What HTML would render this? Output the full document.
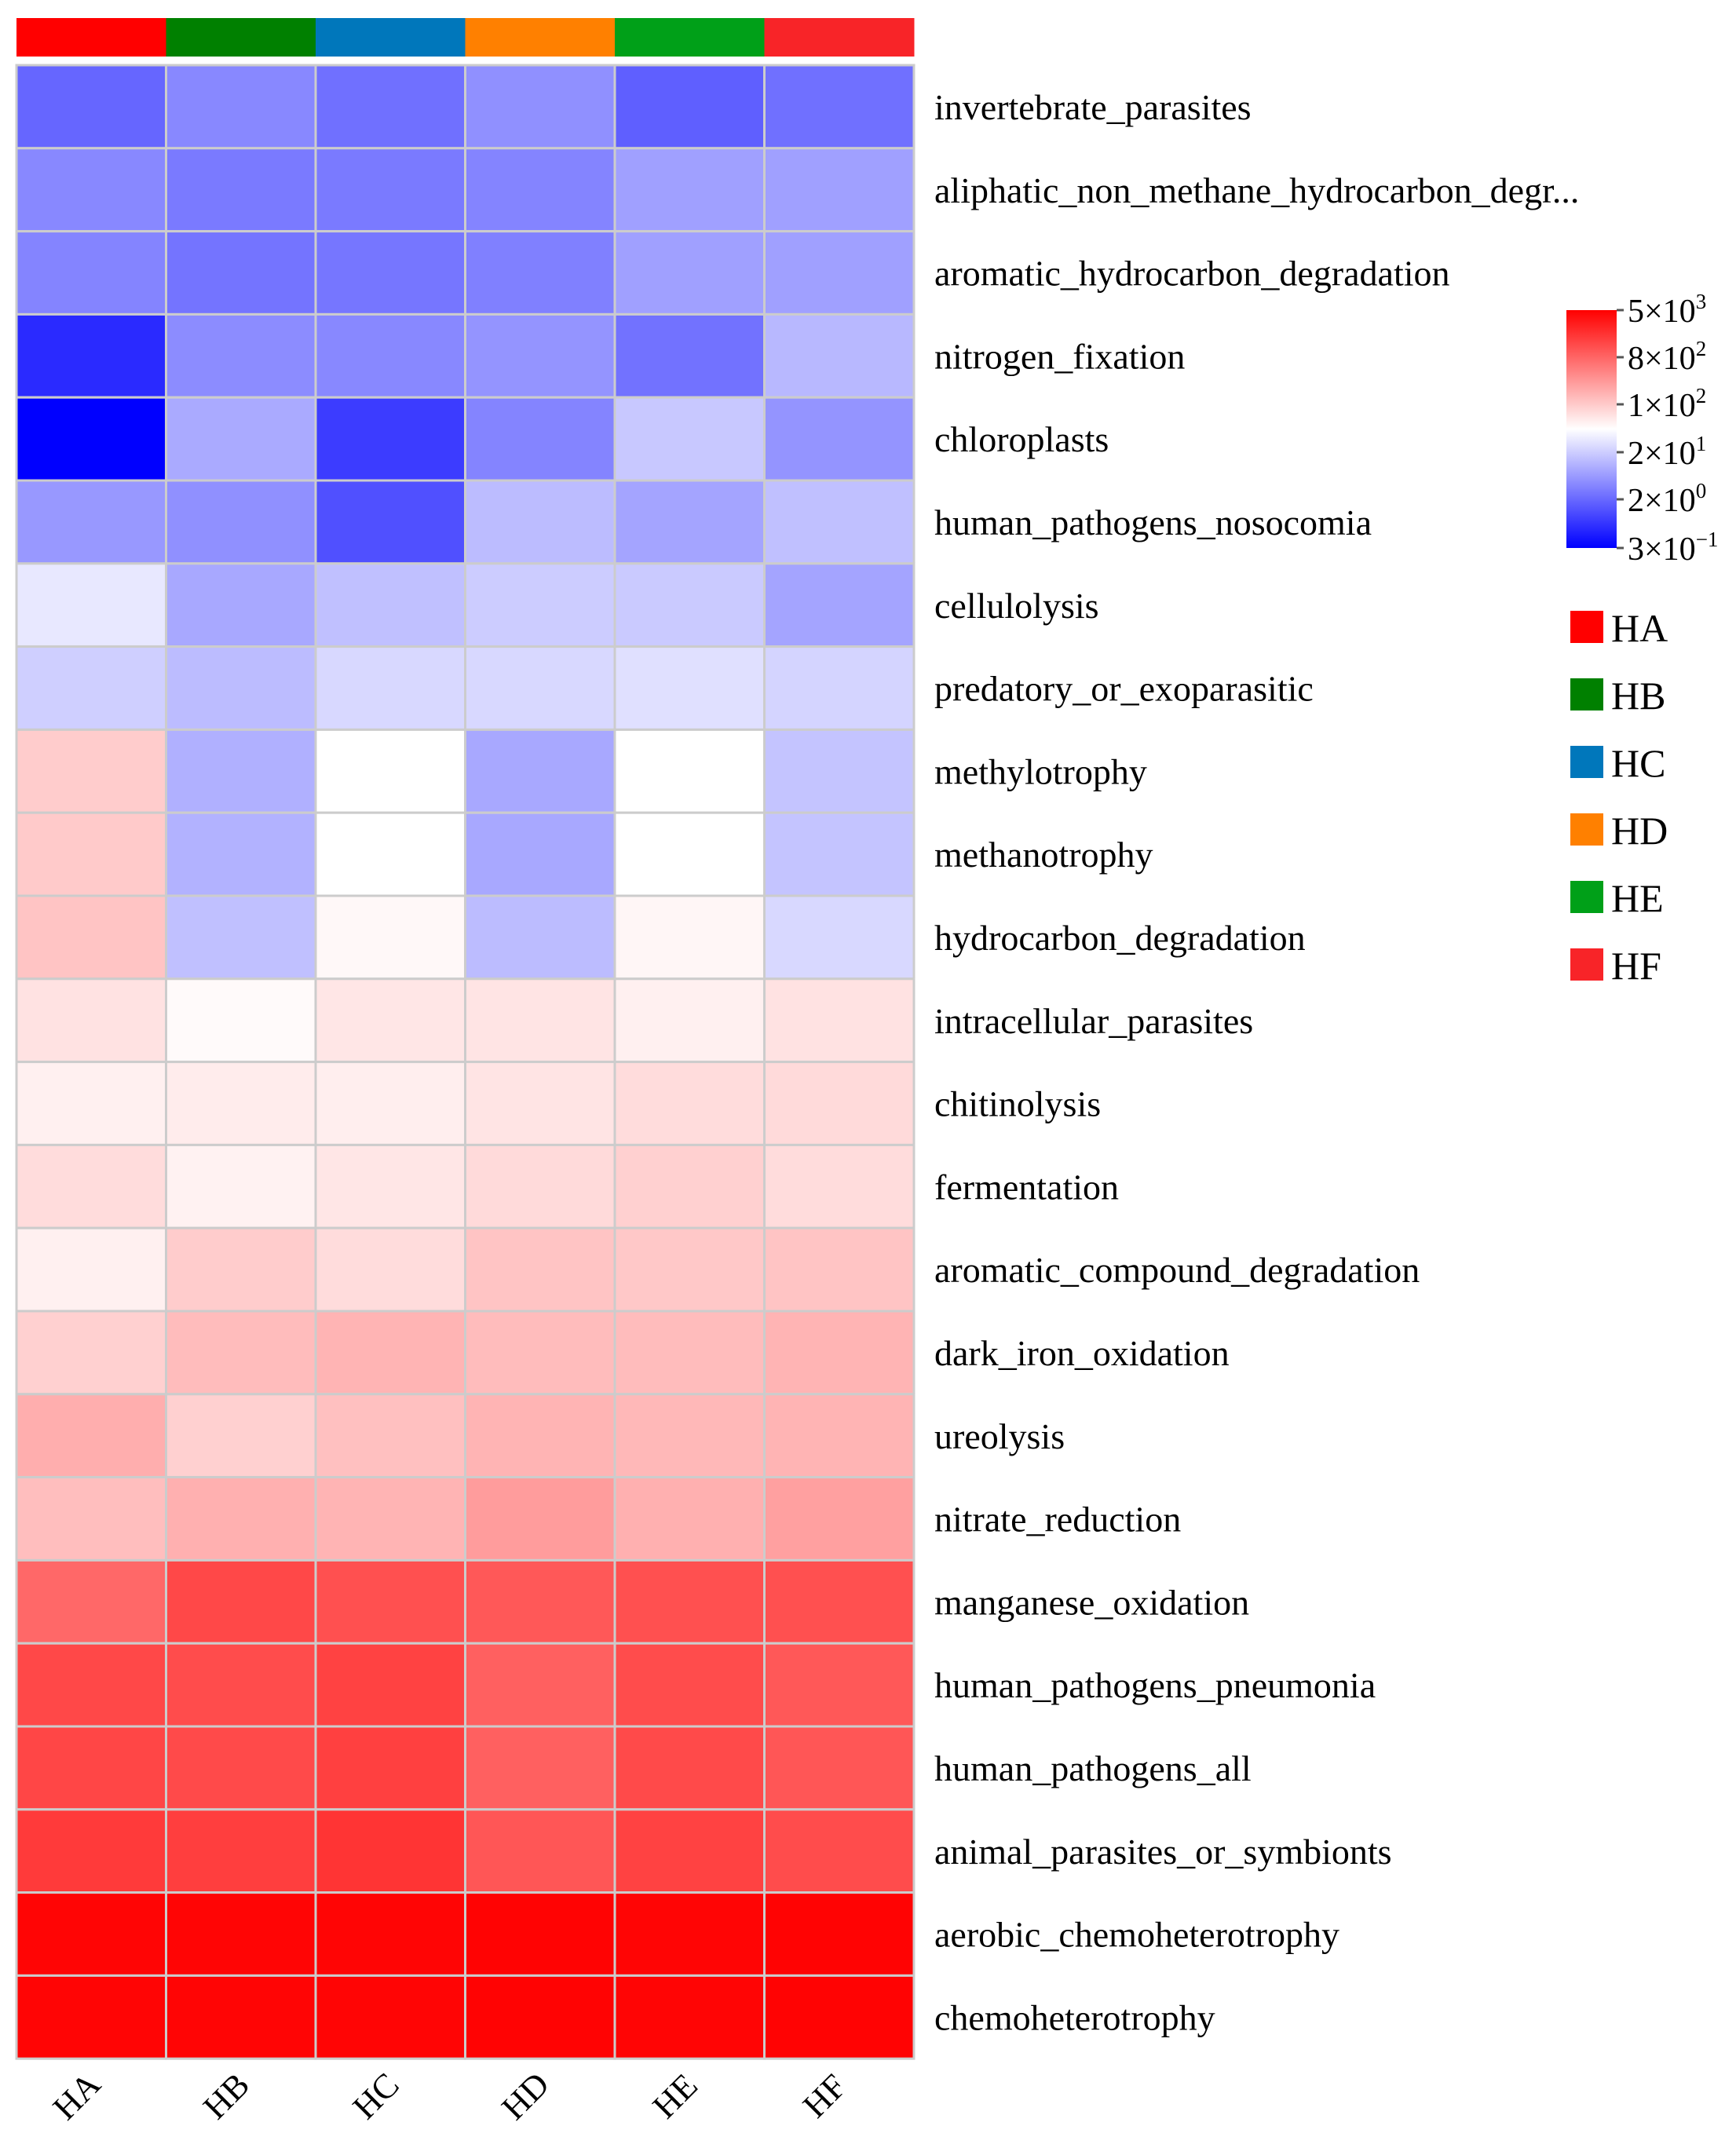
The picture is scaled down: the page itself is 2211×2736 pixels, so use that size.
<!DOCTYPE html>
<html><head><meta charset="utf-8"><style>body{margin:0;background:#fff}svg{display:block}
rect.c{width:190.5px;height:105.8px;stroke:#cccccc;stroke-width:3px}
</style></head>
<body>
<svg width="2211" height="2736" xmlns="http://www.w3.org/2000/svg" font-family="Liberation Serif, serif">
<defs><linearGradient id="cb" x1="0" y1="1" x2="0" y2="0">
<stop offset="0" stop-color="#0000ff"/><stop offset="0.5" stop-color="#ffffff"/><stop offset="1" stop-color="#ff0000"/></linearGradient></defs>
<rect x="21" y="23" width="191" height="49" fill="#ff0000"/>
<rect x="211.5" y="23" width="191" height="49" fill="#008000"/>
<rect x="402" y="23" width="191" height="49" fill="#0077bb"/>
<rect x="592.5" y="23" width="191" height="49" fill="#ff8000"/>
<rect x="783" y="23" width="191" height="49" fill="#00a018"/>
<rect x="973.5" y="23" width="191" height="49" fill="#f82428"/>
<g font-size="46" fill="#000">
<g transform="translate(0,83)"><rect class="c" x="21" y="0" width="190.5" height="105.8" fill="#6666ff"/><rect class="c" x="211.5" y="0" width="190.5" height="105.8" fill="#8888ff"/><rect class="c" x="402" y="0" width="190.5" height="105.8" fill="#7070ff"/><rect class="c" x="592.5" y="0" width="190.5" height="105.8" fill="#9090ff"/><rect class="c" x="783" y="0" width="190.5" height="105.8" fill="#5f5fff"/><rect class="c" x="973.5" y="0" width="190.5" height="105.8" fill="#7070ff"/><text x="1190" y="69">invertebrate_parasites</text></g>
<g transform="translate(0,188.8)"><rect class="c" x="21" y="0" width="190.5" height="105.8" fill="#8888ff"/><rect class="c" x="211.5" y="0" width="190.5" height="105.8" fill="#7a7aff"/><rect class="c" x="402" y="0" width="190.5" height="105.8" fill="#7a7aff"/><rect class="c" x="592.5" y="0" width="190.5" height="105.8" fill="#8484ff"/><rect class="c" x="783" y="0" width="190.5" height="105.8" fill="#a0a0ff"/><rect class="c" x="973.5" y="0" width="190.5" height="105.8" fill="#a0a0ff"/><text x="1190" y="69">aliphatic_non_methane_hydrocarbon_degr...</text></g>
<g transform="translate(0,294.6)"><rect class="c" x="21" y="0" width="190.5" height="105.8" fill="#8484ff"/><rect class="c" x="211.5" y="0" width="190.5" height="105.8" fill="#7474ff"/><rect class="c" x="402" y="0" width="190.5" height="105.8" fill="#7676ff"/><rect class="c" x="592.5" y="0" width="190.5" height="105.8" fill="#8080ff"/><rect class="c" x="783" y="0" width="190.5" height="105.8" fill="#a0a0ff"/><rect class="c" x="973.5" y="0" width="190.5" height="105.8" fill="#a0a0ff"/><text x="1190" y="69">aromatic_hydrocarbon_degradation</text></g>
<g transform="translate(0,400.4)"><rect class="c" x="21" y="0" width="190.5" height="105.8" fill="#2a2aff"/><rect class="c" x="211.5" y="0" width="190.5" height="105.8" fill="#8c8cff"/><rect class="c" x="402" y="0" width="190.5" height="105.8" fill="#8888ff"/><rect class="c" x="592.5" y="0" width="190.5" height="105.8" fill="#9494ff"/><rect class="c" x="783" y="0" width="190.5" height="105.8" fill="#7272ff"/><rect class="c" x="973.5" y="0" width="190.5" height="105.8" fill="#b8b8ff"/><text x="1190" y="69">nitrogen_fixation</text></g>
<g transform="translate(0,506.2)"><rect class="c" x="21" y="0" width="190.5" height="105.8" fill="#0000ff"/><rect class="c" x="211.5" y="0" width="190.5" height="105.8" fill="#aaaaff"/><rect class="c" x="402" y="0" width="190.5" height="105.8" fill="#3c3cff"/><rect class="c" x="592.5" y="0" width="190.5" height="105.8" fill="#8484ff"/><rect class="c" x="783" y="0" width="190.5" height="105.8" fill="#c8c8ff"/><rect class="c" x="973.5" y="0" width="190.5" height="105.8" fill="#9494ff"/><text x="1190" y="69">chloroplasts</text></g>
<g transform="translate(0,612)"><rect class="c" x="21" y="0" width="190.5" height="105.8" fill="#9898ff"/><rect class="c" x="211.5" y="0" width="190.5" height="105.8" fill="#9090ff"/><rect class="c" x="402" y="0" width="190.5" height="105.8" fill="#5050ff"/><rect class="c" x="592.5" y="0" width="190.5" height="105.8" fill="#bcbcff"/><rect class="c" x="783" y="0" width="190.5" height="105.8" fill="#a4a4ff"/><rect class="c" x="973.5" y="0" width="190.5" height="105.8" fill="#c0c0ff"/><text x="1190" y="69">human_pathogens_nosocomia</text></g>
<g transform="translate(0,717.8)"><rect class="c" x="21" y="0" width="190.5" height="105.8" fill="#e8e8ff"/><rect class="c" x="211.5" y="0" width="190.5" height="105.8" fill="#a8a8ff"/><rect class="c" x="402" y="0" width="190.5" height="105.8" fill="#c0c0ff"/><rect class="c" x="592.5" y="0" width="190.5" height="105.8" fill="#ccccff"/><rect class="c" x="783" y="0" width="190.5" height="105.8" fill="#cacaff"/><rect class="c" x="973.5" y="0" width="190.5" height="105.8" fill="#a4a4ff"/><text x="1190" y="69">cellulolysis</text></g>
<g transform="translate(0,823.6)"><rect class="c" x="21" y="0" width="190.5" height="105.8" fill="#cfcfff"/><rect class="c" x="211.5" y="0" width="190.5" height="105.8" fill="#bcbcff"/><rect class="c" x="402" y="0" width="190.5" height="105.8" fill="#d8d8ff"/><rect class="c" x="592.5" y="0" width="190.5" height="105.8" fill="#d8d8ff"/><rect class="c" x="783" y="0" width="190.5" height="105.8" fill="#e0e0ff"/><rect class="c" x="973.5" y="0" width="190.5" height="105.8" fill="#d4d4ff"/><text x="1190" y="69">predatory_or_exoparasitic</text></g>
<g transform="translate(0,929.4)"><rect class="c" x="21" y="0" width="190.5" height="105.8" fill="#ffcccc"/><rect class="c" x="211.5" y="0" width="190.5" height="105.8" fill="#b0b0ff"/><rect class="c" x="402" y="0" width="190.5" height="105.8" fill="#ffffff"/><rect class="c" x="592.5" y="0" width="190.5" height="105.8" fill="#a8a8ff"/><rect class="c" x="783" y="0" width="190.5" height="105.8" fill="#ffffff"/><rect class="c" x="973.5" y="0" width="190.5" height="105.8" fill="#c4c4ff"/><text x="1190" y="69">methylotrophy</text></g>
<g transform="translate(0,1035.2)"><rect class="c" x="21" y="0" width="190.5" height="105.8" fill="#ffcaca"/><rect class="c" x="211.5" y="0" width="190.5" height="105.8" fill="#b2b2ff"/><rect class="c" x="402" y="0" width="190.5" height="105.8" fill="#ffffff"/><rect class="c" x="592.5" y="0" width="190.5" height="105.8" fill="#a8a8ff"/><rect class="c" x="783" y="0" width="190.5" height="105.8" fill="#ffffff"/><rect class="c" x="973.5" y="0" width="190.5" height="105.8" fill="#c4c4ff"/><text x="1190" y="69">methanotrophy</text></g>
<g transform="translate(0,1141)"><rect class="c" x="21" y="0" width="190.5" height="105.8" fill="#ffc4c4"/><rect class="c" x="211.5" y="0" width="190.5" height="105.8" fill="#c0c0ff"/><rect class="c" x="402" y="0" width="190.5" height="105.8" fill="#fff8f8"/><rect class="c" x="592.5" y="0" width="190.5" height="105.8" fill="#bcbcff"/><rect class="c" x="783" y="0" width="190.5" height="105.8" fill="#fff6f6"/><rect class="c" x="973.5" y="0" width="190.5" height="105.8" fill="#d8d8ff"/><text x="1190" y="69">hydrocarbon_degradation</text></g>
<g transform="translate(0,1246.8)"><rect class="c" x="21" y="0" width="190.5" height="105.8" fill="#ffe2e2"/><rect class="c" x="211.5" y="0" width="190.5" height="105.8" fill="#fffafa"/><rect class="c" x="402" y="0" width="190.5" height="105.8" fill="#ffe6e6"/><rect class="c" x="592.5" y="0" width="190.5" height="105.8" fill="#ffe4e4"/><rect class="c" x="783" y="0" width="190.5" height="105.8" fill="#fff0f0"/><rect class="c" x="973.5" y="0" width="190.5" height="105.8" fill="#ffe2e2"/><text x="1190" y="69">intracellular_parasites</text></g>
<g transform="translate(0,1352.6)"><rect class="c" x="21" y="0" width="190.5" height="105.8" fill="#fff0f0"/><rect class="c" x="211.5" y="0" width="190.5" height="105.8" fill="#ffecec"/><rect class="c" x="402" y="0" width="190.5" height="105.8" fill="#ffeeee"/><rect class="c" x="592.5" y="0" width="190.5" height="105.8" fill="#ffe4e4"/><rect class="c" x="783" y="0" width="190.5" height="105.8" fill="#ffdcdc"/><rect class="c" x="973.5" y="0" width="190.5" height="105.8" fill="#ffdada"/><text x="1190" y="69">chitinolysis</text></g>
<g transform="translate(0,1458.4)"><rect class="c" x="21" y="0" width="190.5" height="105.8" fill="#ffdcdc"/><rect class="c" x="211.5" y="0" width="190.5" height="105.8" fill="#fff2f2"/><rect class="c" x="402" y="0" width="190.5" height="105.8" fill="#ffe6e6"/><rect class="c" x="592.5" y="0" width="190.5" height="105.8" fill="#ffdada"/><rect class="c" x="783" y="0" width="190.5" height="105.8" fill="#ffd0d0"/><rect class="c" x="973.5" y="0" width="190.5" height="105.8" fill="#ffdcdc"/><text x="1190" y="69">fermentation</text></g>
<g transform="translate(0,1564.2)"><rect class="c" x="21" y="0" width="190.5" height="105.8" fill="#fff0f0"/><rect class="c" x="211.5" y="0" width="190.5" height="105.8" fill="#ffcccc"/><rect class="c" x="402" y="0" width="190.5" height="105.8" fill="#ffdcdc"/><rect class="c" x="592.5" y="0" width="190.5" height="105.8" fill="#ffc4c4"/><rect class="c" x="783" y="0" width="190.5" height="105.8" fill="#ffc8c8"/><rect class="c" x="973.5" y="0" width="190.5" height="105.8" fill="#ffc4c4"/><text x="1190" y="69">aromatic_compound_degradation</text></g>
<g transform="translate(0,1670)"><rect class="c" x="21" y="0" width="190.5" height="105.8" fill="#ffd0d0"/><rect class="c" x="211.5" y="0" width="190.5" height="105.8" fill="#ffbcbc"/><rect class="c" x="402" y="0" width="190.5" height="105.8" fill="#ffb4b4"/><rect class="c" x="592.5" y="0" width="190.5" height="105.8" fill="#ffbcbc"/><rect class="c" x="783" y="0" width="190.5" height="105.8" fill="#ffbcbc"/><rect class="c" x="973.5" y="0" width="190.5" height="105.8" fill="#ffb4b4"/><text x="1190" y="69">dark_iron_oxidation</text></g>
<g transform="translate(0,1775.8)"><rect class="c" x="21" y="0" width="190.5" height="105.8" fill="#ffaeae"/><rect class="c" x="211.5" y="0" width="190.5" height="105.8" fill="#ffd0d0"/><rect class="c" x="402" y="0" width="190.5" height="105.8" fill="#ffc0c0"/><rect class="c" x="592.5" y="0" width="190.5" height="105.8" fill="#ffb4b4"/><rect class="c" x="783" y="0" width="190.5" height="105.8" fill="#ffb8b8"/><rect class="c" x="973.5" y="0" width="190.5" height="105.8" fill="#ffb4b4"/><text x="1190" y="69">ureolysis</text></g>
<g transform="translate(0,1881.6)"><rect class="c" x="21" y="0" width="190.5" height="105.8" fill="#ffbebe"/><rect class="c" x="211.5" y="0" width="190.5" height="105.8" fill="#ffb0b0"/><rect class="c" x="402" y="0" width="190.5" height="105.8" fill="#ffb4b4"/><rect class="c" x="592.5" y="0" width="190.5" height="105.8" fill="#ff9c9c"/><rect class="c" x="783" y="0" width="190.5" height="105.8" fill="#ffb0b0"/><rect class="c" x="973.5" y="0" width="190.5" height="105.8" fill="#ffa0a0"/><text x="1190" y="69">nitrate_reduction</text></g>
<g transform="translate(0,1987.4)"><rect class="c" x="21" y="0" width="190.5" height="105.8" fill="#ff6868"/><rect class="c" x="211.5" y="0" width="190.5" height="105.8" fill="#ff4848"/><rect class="c" x="402" y="0" width="190.5" height="105.8" fill="#ff5050"/><rect class="c" x="592.5" y="0" width="190.5" height="105.8" fill="#ff5858"/><rect class="c" x="783" y="0" width="190.5" height="105.8" fill="#ff5050"/><rect class="c" x="973.5" y="0" width="190.5" height="105.8" fill="#ff5050"/><text x="1190" y="69">manganese_oxidation</text></g>
<g transform="translate(0,2093.2)"><rect class="c" x="21" y="0" width="190.5" height="105.8" fill="#ff4848"/><rect class="c" x="211.5" y="0" width="190.5" height="105.8" fill="#ff4c4c"/><rect class="c" x="402" y="0" width="190.5" height="105.8" fill="#ff4242"/><rect class="c" x="592.5" y="0" width="190.5" height="105.8" fill="#ff6060"/><rect class="c" x="783" y="0" width="190.5" height="105.8" fill="#ff4c4c"/><rect class="c" x="973.5" y="0" width="190.5" height="105.8" fill="#ff5858"/><text x="1190" y="69">human_pathogens_pneumonia</text></g>
<g transform="translate(0,2199)"><rect class="c" x="21" y="0" width="190.5" height="105.8" fill="#ff4646"/><rect class="c" x="211.5" y="0" width="190.5" height="105.8" fill="#ff4a4a"/><rect class="c" x="402" y="0" width="190.5" height="105.8" fill="#ff4040"/><rect class="c" x="592.5" y="0" width="190.5" height="105.8" fill="#ff6060"/><rect class="c" x="783" y="0" width="190.5" height="105.8" fill="#ff4a4a"/><rect class="c" x="973.5" y="0" width="190.5" height="105.8" fill="#ff5656"/><text x="1190" y="69">human_pathogens_all</text></g>
<g transform="translate(0,2304.8)"><rect class="c" x="21" y="0" width="190.5" height="105.8" fill="#ff3a3a"/><rect class="c" x="211.5" y="0" width="190.5" height="105.8" fill="#ff3e3e"/><rect class="c" x="402" y="0" width="190.5" height="105.8" fill="#ff3434"/><rect class="c" x="592.5" y="0" width="190.5" height="105.8" fill="#ff5656"/><rect class="c" x="783" y="0" width="190.5" height="105.8" fill="#ff4242"/><rect class="c" x="973.5" y="0" width="190.5" height="105.8" fill="#ff4c4c"/><text x="1190" y="69">animal_parasites_or_symbionts</text></g>
<g transform="translate(0,2410.6)"><rect class="c" x="21" y="0" width="190.5" height="105.8" fill="#ff0505"/><rect class="c" x="211.5" y="0" width="190.5" height="105.8" fill="#ff0505"/><rect class="c" x="402" y="0" width="190.5" height="105.8" fill="#ff0505"/><rect class="c" x="592.5" y="0" width="190.5" height="105.8" fill="#ff0303"/><rect class="c" x="783" y="0" width="190.5" height="105.8" fill="#ff0505"/><rect class="c" x="973.5" y="0" width="190.5" height="105.8" fill="#ff0303"/><text x="1190" y="69">aerobic_chemoheterotrophy</text></g>
<g transform="translate(0,2516.4)"><rect class="c" x="21" y="0" width="190.5" height="105.8" fill="#ff0505"/><rect class="c" x="211.5" y="0" width="190.5" height="105.8" fill="#ff0505"/><rect class="c" x="402" y="0" width="190.5" height="105.8" fill="#ff0505"/><rect class="c" x="592.5" y="0" width="190.5" height="105.8" fill="#ff0303"/><rect class="c" x="783" y="0" width="190.5" height="105.8" fill="#ff0505"/><rect class="c" x="973.5" y="0" width="190.5" height="105.8" fill="#ff0303"/><text x="1190" y="69">chemoheterotrophy</text></g>
</g>
<g transform="translate(21,0)">
<rect x="1974" y="395" width="64" height="303" fill="url(#cb)"/>
<g stroke="#555" stroke-width="3">
<line x1="2038" y1="395" x2="2047" y2="395"/><line x1="2038" y1="455" x2="2047" y2="455"/><line x1="2038" y1="515" x2="2047" y2="515"/><line x1="2038" y1="576" x2="2047" y2="576"/><line x1="2038" y1="636" x2="2047" y2="636"/><line x1="2038" y1="698" x2="2047" y2="698"/></g>
<g font-size="42" fill="#000">
<text x="2052" y="410">5×10<tspan font-size="27" dy="-17">3</tspan></text>
<text x="2052" y="470">8×10<tspan font-size="27" dy="-17">2</tspan></text>
<text x="2052" y="530">1×10<tspan font-size="27" dy="-17">2</tspan></text>
<text x="2052" y="591">2×10<tspan font-size="27" dy="-17">1</tspan></text>
<text x="2052" y="651">2×10<tspan font-size="27" dy="-17">0</tspan></text>
<text x="2052" y="713">3×10<tspan font-size="27" dy="-17">−1</tspan></text>
</g>
<g font-size="50" fill="#000">
<rect x="1979" y="778" width="42" height="41" fill="#ff0000"/><text x="2031" y="817">HA</text>
<rect x="1979" y="864" width="42" height="41" fill="#008000"/><text x="2031" y="903">HB</text>
<rect x="1979" y="950" width="42" height="41" fill="#0077bb"/><text x="2031" y="989">HC</text>
<rect x="1979" y="1036" width="42" height="41" fill="#ff8000"/><text x="2031" y="1075">HD</text>
<rect x="1979" y="1122" width="42" height="41" fill="#00a018"/><text x="2031" y="1161">HE</text>
<rect x="1979" y="1208" width="42" height="41" fill="#f82428"/><text x="2031" y="1247">HF</text>
</g>
</g>
<g font-size="44" fill="#000" text-anchor="middle">
<text x="108" y="2680" transform="rotate(-45 108 2680)">HA</text>
<text x="298.5" y="2680" transform="rotate(-45 298.5 2680)">HB</text>
<text x="489" y="2680" transform="rotate(-45 489 2680)">HC</text>
<text x="679.5" y="2680" transform="rotate(-45 679.5 2680)">HD</text>
<text x="870" y="2680" transform="rotate(-45 870 2680)">HE</text>
<text x="1060.5" y="2680" transform="rotate(-45 1060.5 2680)">HF</text>
</g>
</svg>
</body></html>
